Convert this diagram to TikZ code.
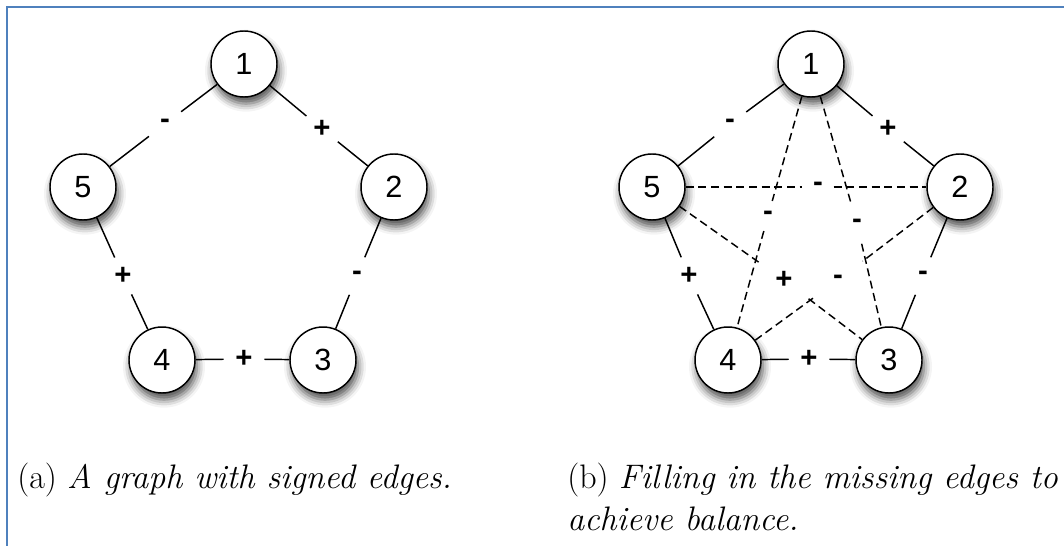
\documentclass[tikz,border=0pt]{standalone}
\usepackage{fontspec}
\newfontfamily\hv{Liberation Sans}
\usetikzlibrary{shadows.blur,backgrounds}
\definecolor{frameblue}{RGB}{79,129,189}
\begin{document}
\begin{tikzpicture}[x=0.75pt,y=-0.75pt,
  vert/.style={circle,draw=black,line width=1.1pt,fill=white,minimum size=49.5pt,inner sep=0pt,
    font=\hv\fontsize{23}{23}\selectfont,
    blur shadow={shadow xshift=1.5pt,shadow yshift=-5pt,shadow blur radius=6pt,shadow opacity=70}},
  sgn/.style={circle,inner sep=0pt,minimum size=#1,font=\hv\bfseries\fontsize{22}{22}\selectfont},
  sgn/.default=30pt,
  edge/.style={line width=1.1pt},
  dedge/.style={line width=1.1pt,dash pattern=on 6pt off 3.5pt},
  captext/.style={anchor=base west,inner sep=0pt,font=\fontsize{25.5}{30}\selectfont}]
\useasboundingbox (0,0) rectangle (1064,546);
\draw[frameblue,line width=2pt] (1080,7) -- (7,7) -- (7,560);

% left graph
\node[vert] (a1) at (244,64) {1};
\node[vert] (a2) at (394,187) {2};
\node[vert] (a3) at (323,360) {3};
\node[vert] (a4) at (162,360) {4};
\node[vert] (a5) at (83,187) {5};
\node[sgn] (la15) at (165,124) {-};
\node[sgn] (la12) at (322,129) {+};
\node[sgn] (la54) at (123,276) {+};
\node[sgn] (la23) at (357,276) {-};
\node[sgn] (la43) at (244,359) {+};

% right graph
\node[vert] (b1) at (811,64) {1};
\node[vert] (b2) at (960,187) {2};
\node[vert] (b3) at (889,360) {3};
\node[vert] (b4) at (728,360) {4};
\node[vert] (b5) at (652,187) {5};
\node[sgn] (lb15) at (730,124) {-};
\node[sgn] (lb12) at (888,129) {+};
\node[sgn] (lb54) at (689,276) {+};
\node[sgn] (lb23) at (923,276) {-};
\node[sgn] (lb43) at (809,359) {+};
\node[sgn=23pt] (lb52) at (818,187) {-};
\node[sgn=23pt] (lb14) at (768,216) {-};
\node[sgn=30pt] (lb13) at (857,224) {-};
\node[sgn=46pt] (lb53) at (784,280) {+};
\node[sgn=46pt] (lb24) at (838,280) {-};

\begin{pgfonlayer}{background}
\draw[edge] (a1) -- (la15) (la15) -- (a5);
\draw[edge] (a1) -- (la12) (la12) -- (a2);
\draw[edge] (a5) -- (la54) (la54) -- (a4);
\draw[edge] (a2) -- (la23) (la23) -- (a3);
\draw[edge] (a4) -- (la43) (la43) -- (a3);
\draw[edge] (b1) -- (lb15) (lb15) -- (b5);
\draw[edge] (b1) -- (lb12) (lb12) -- (b2);
\draw[edge] (b5) -- (lb54) (lb54) -- (b4);
\draw[edge] (b2) -- (lb23) (lb23) -- (b3);
\draw[edge] (b4) -- (lb43) (lb43) -- (b3);
\draw[dedge] (b5) -- (lb52) (lb52) -- (b2);
\draw[dedge] (b1) -- (lb14) (lb14) -- (b4);
\draw[dedge] (b1) -- (lb13) (lb13) -- (b3);
\draw[dedge] (b5) -- (lb53) (lb53) -- (b3);
\draw[dedge] (b2) -- (lb24) (lb24) -- (b4);
\end{pgfonlayer}

\node[captext] (capa) at (17,488) {(a) \textit{A graph with signed edges.}};
\node[captext] (capb) at (567,488) {(b) \textit{Filling in the missing edges to}};
\node[captext] (capc) at (567,530) {\textit{achieve balance.}};
\end{tikzpicture}
\end{document}
